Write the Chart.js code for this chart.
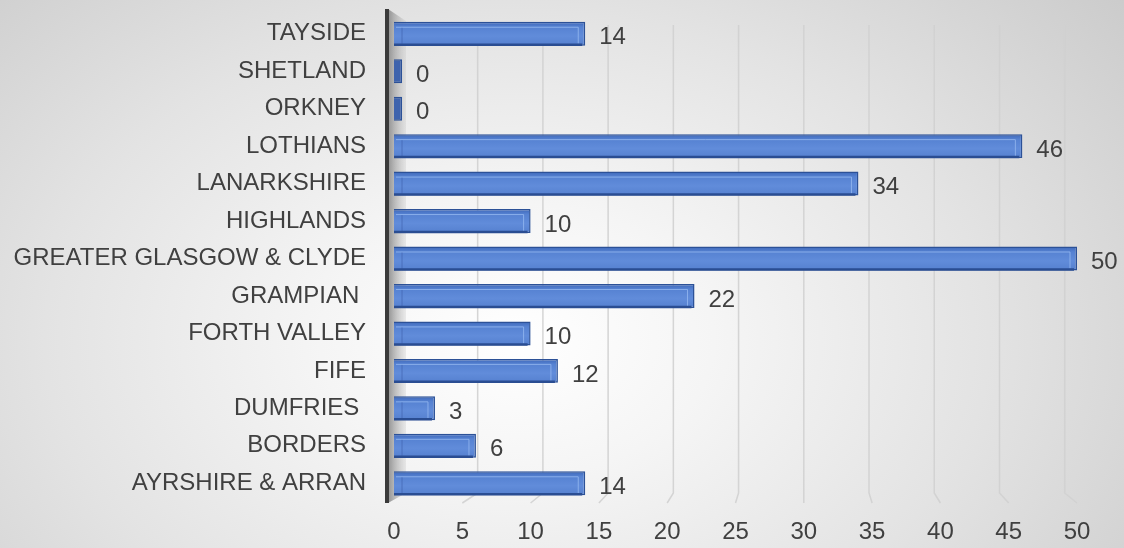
<!DOCTYPE html>
<html>
<head>
<meta charset="utf-8">
<script src="https://cdn.jsdelivr.net/npm/chart.js@4"></script>
<style>
  html, body { margin: 0; padding: 0; }
  body {
    width: 1124px; height: 548px; overflow: hidden;
    background: radial-gradient(ellipse 70% 100% at 46% 62%, #ffffff 0%, #f5f5f5 25%, #e3e3e3 60%, #cbcbcb 100%);
  }
  #wrap { position: relative; width: 1124px; height: 548px; }
</style>
</head>
<body>
<div id="wrap"><canvas id="chart" width="1124" height="548"></canvas></div>
<script>
// regions, top to bottom as drawn
const regions = ['TAYSIDE', 'SHETLAND', 'ORKNEY', 'LOTHIANS', 'LANARKSHIRE', 'HIGHLANDS',
  'GREATER GLASGOW & CLYDE', 'GRAMPIAN ', 'FORTH VALLEY', 'FIFE', 'DUMFRIES ', 'BORDERS', 'AYRSHIRE & ARRAN'];
const counts = [14, 0, 0, 46, 34, 10, 50, 22, 10, 12, 3, 6, 14];
const xTicks = [0, 5, 10, 15, 20, 25, 30, 35, 40, 45, 50];

const textColor = '#404040';
const font = 'Liberation Sans, Arial, sans-serif';

// left wall + perspective gridlines, drawn under the bars
const backdrop = {
  id: 'backdrop',
  beforeDatasetsDraw(chart) {
    const { ctx, chartArea: a, scales: { x } } = chart;
    const vp = x.getPixelForValue(30);
    ctx.save();
    ctx.strokeStyle = 'rgba(208,208,208,0.9)';
    ctx.lineWidth = 1.5;
    for (const v of xTicks) {
      if (v === 0) continue;
      const xf = x.getPixelForValue(v);
      const xb = vp + (xf - vp) * 0.955;
      ctx.beginPath();
      ctx.moveTo(xb, a.top + 10);
      ctx.lineTo(xb, a.bottom - 9);
      ctx.lineTo(xf, a.bottom + 1);
      ctx.stroke();
    }
    // side wall
    const g = ctx.createLinearGradient(a.left - 6, 0, a.left + 14, 0);
    g.addColorStop(0, 'rgba(140,140,140,0.95)');
    g.addColorStop(1, 'rgba(200,200,200,0.2)');
    ctx.fillStyle = g;
    ctx.beginPath();
    ctx.moveTo(a.left - 6, a.top - 6);
    ctx.lineTo(a.left + 12, a.top + 6);
    ctx.lineTo(a.left + 12, a.bottom - 9);
    ctx.lineTo(a.left - 6, a.bottom + 1);
    ctx.closePath();
    ctx.fill();
    ctx.strokeStyle = '#3a3a3a';
    ctx.lineWidth = 4;
    ctx.beginPath();
    ctx.moveTo(a.left - 7, a.top - 6);
    ctx.lineTo(a.left - 7, a.bottom + 1);
    ctx.stroke();
    ctx.restore();
  }
};

// top face / end cap highlights, then value labels
const valueLabels = {
  id: 'valueLabels',
  afterDatasetsDraw(chart) {
    const { ctx } = chart;
    const meta = chart.getDatasetMeta(0);
    ctx.save();
    meta.data.forEach((bar, i) => {
      const top = bar.y - bar.height / 2, bot = bar.y + bar.height / 2;
      const left = bar.base, right = bar.x;
      if (right - left > 14) {
        ctx.strokeStyle = 'rgba(150,185,240,0.8)';
        ctx.lineWidth = 1;
        ctx.beginPath();
        ctx.moveTo(left + 2, top + 5.5);
        ctx.lineTo(right - 7, top + 5.5);
        ctx.lineTo(right - 7, bot - 2);
        ctx.stroke();
        ctx.strokeStyle = 'rgba(60,95,170,0.6)';
        ctx.beginPath();
        ctx.moveTo(left + 8, top + 6);
        ctx.lineTo(left + 8, bot - 2);
        ctx.stroke();
        ctx.strokeStyle = '#2a4d92';
        ctx.lineWidth = 2.5;
        ctx.beginPath();
        ctx.moveTo(left, bot - 1);
        ctx.lineTo(right - 3, bot - 1);
        ctx.stroke();
      }
    });
    ctx.fillStyle = textColor;
    ctx.font = '24px ' + font;
    ctx.textBaseline = 'middle';
    meta.data.forEach((bar, i) => {
      ctx.fillText(String(counts[i]), bar.x + 14, bar.y + 4);
    });
    ctx.restore();
  }
};

const canvas = document.getElementById('chart');
new Chart(canvas, {
  type: 'bar',
  data: {
    labels: regions,
    datasets: [{
      data: counts,
      backgroundColor(c) {
        const ys = c.chart.scales.y;
        if (!c.chart.chartArea || !ys) return '#5b86d4';
        if (counts[c.dataIndex] === 0) return '#3e63ad';
        const cy = ys.getPixelForValue(c.dataIndex);
        if (!isFinite(cy)) return '#5b86d4';
        const h = 12;
        const g = c.chart.ctx.createLinearGradient(0, cy - h, 0, cy + h);
        g.addColorStop(0, '#3d67b8');
        g.addColorStop(0.22, '#5682d2');
        g.addColorStop(0.6, '#618cda');
        g.addColorStop(1, '#5580cf');
        return g;
      },
      borderColor: '#2c5197',
      borderWidth: 1.5,
      minBarLength: 8,
      barPercentage: 0.64,
      categoryPercentage: 1
    }]
  },
  options: {
    indexAxis: 'y',
    responsive: false,
    animation: false,
    layout: { padding: { top: 15, right: 47, bottom: 0, left: 0 } },
    plugins: { legend: { display: false }, tooltip: { enabled: false } },
    scales: {
      x: {
        min: 0, max: 50,
        afterBuildTicks(s) { s.ticks = xTicks.map(v => ({ value: v })); },
        afterFit(s) { s.height = 46; },
        grid: { display: false, drawTicks: false },
        border: { display: false },
        ticks: { color: textColor, font: { family: font, size: 24 }, padding: 16, maxRotation: 0 }
      },
      y: {
        afterFit(s) { s.width = 394; s.paddingTop = 0; s.paddingBottom = 0; },
        grid: { display: false, drawTicks: false },
        border: { display: false },
        ticks: { color: textColor, font: { family: font, size: 24 }, padding: 28 }
      }
    }
  },
  plugins: [backdrop, valueLabels]
});
</script>
</body>
</html>
